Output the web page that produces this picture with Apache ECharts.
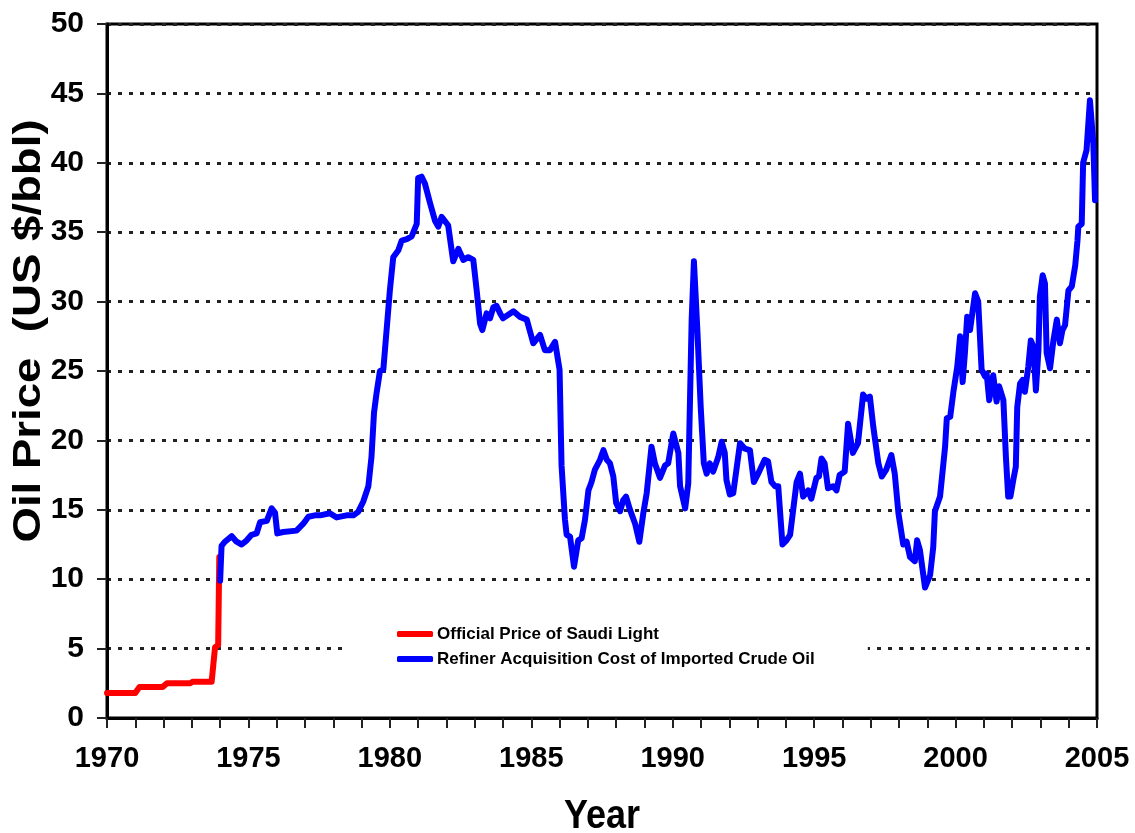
<!DOCTYPE html>
<html>
<head>
<meta charset="utf-8">
<title>Oil Price 1970-2005</title>
<script src="https://cdn.jsdelivr.net/npm/echarts@6/dist/echarts.min.js"></script>
<style>
  html, body { margin: 0; padding: 0; background: #fff; }
  #chart { width: 1135px; height: 833px; }
</style>
</head>
<body>
<div id="chart"></div>
<script>
// Official Price of Saudi Light (US $/bbl), 1970 - early 1974
const saudiYears  = [1970, 1971.0, 1971.15, 1971.97, 1972.12, 1972.93, 1973.04, 1973.7, 1973.82, 1973.93, 1973.97];
const saudiPrices = [1.8, 1.8, 2.24, 2.24, 2.5, 2.5, 2.62, 2.62, 5.1, 5.25, 11.6];

// Refiner Acquisition Cost of Imported Crude Oil (US $/bbl), 1974 - 2004
const racYears = [
  1974.00, 1974.05, 1974.17, 1974.41, 1974.58, 1974.76, 1974.94, 1975.11, 1975.29, 1975.41,
  1975.65, 1975.82, 1975.94, 1976.02, 1976.23, 1976.70, 1976.94, 1977.12, 1977.35, 1977.53,
  1977.88, 1978.12, 1978.47, 1978.71, 1978.88, 1979.06, 1979.24, 1979.35, 1979.44, 1979.53,
  1979.65, 1979.77, 1980.00, 1980.12, 1980.30, 1980.42, 1980.60, 1980.77, 1980.95, 1981.00,
  1981.12, 1981.24, 1981.42, 1981.60, 1981.71, 1981.83, 1982.06, 1982.24, 1982.42, 1982.60,
  1982.77, 1982.95, 1983.07, 1983.19, 1983.27, 1983.42, 1983.54, 1983.66, 1983.77, 1983.90,
  1984.00, 1984.37, 1984.60, 1984.84, 1985.07, 1985.31, 1985.48, 1985.66, 1985.84, 1986.00,
  1986.07, 1986.19, 1986.25, 1986.37, 1986.51, 1986.66, 1986.78, 1986.90, 1987.02, 1987.13,
  1987.25, 1987.43, 1987.55, 1987.67, 1987.78, 1987.90, 1988.00, 1988.14, 1988.25, 1988.35,
  1988.49, 1988.67, 1988.82, 1988.96, 1989.08, 1989.25, 1989.37, 1989.55, 1989.73, 1989.84,
  1990.02, 1990.20, 1990.26, 1990.44, 1990.55, 1990.67, 1990.75, 1990.87, 1990.99, 1991.10,
  1991.20, 1991.31, 1991.43, 1991.61, 1991.73, 1991.84, 1991.90, 1992.02, 1992.14, 1992.26,
  1992.38, 1992.55, 1992.73, 1992.87, 1993.02, 1993.25, 1993.37, 1993.49, 1993.62, 1993.73,
  1993.88, 1994.02, 1994.15, 1994.38, 1994.50, 1994.61, 1994.79, 1994.90, 1995.08, 1995.17,
  1995.26, 1995.37, 1995.49, 1995.67, 1995.79, 1995.90, 1996.08, 1996.20, 1996.37, 1996.55,
  1996.73, 1996.85, 1996.97, 1997.09, 1997.27, 1997.39, 1997.55, 1997.73, 1997.85, 1997.98,
  1998.15, 1998.27, 1998.39, 1998.56, 1998.64, 1998.74, 1998.92, 1999.10, 1999.21, 1999.27,
  1999.45, 1999.63, 1999.69, 1999.81, 1999.93, 2000.06, 2000.16, 2000.25, 2000.33, 2000.41,
  2000.51, 2000.69, 2000.80, 2000.92, 2001.04, 2001.10, 2001.19, 2001.33, 2001.45, 2001.54,
  2001.69, 2001.78, 2001.86, 2001.94, 2002.04, 2002.13, 2002.18, 2002.28, 2002.37, 2002.45,
  2002.57, 2002.66, 2002.75, 2002.84, 2002.93, 2002.98, 2003.08, 2003.16, 2003.22, 2003.34,
  2003.46, 2003.58, 2003.69, 2003.78, 2003.87, 2003.99, 2004.11, 2004.23, 2004.31, 2004.34,
  2004.46, 2004.51, 2004.63, 2004.75, 2004.87, 2004.93
];
const racPrices = [
  9.9, 12.4, 12.7, 13.1, 12.7, 12.5, 12.8, 13.2, 13.3, 14.1,
  14.2, 15.1, 14.8, 13.3, 13.4, 13.5, 14.0, 14.5, 14.6, 14.6,
  14.75, 14.45, 14.6, 14.6, 14.85, 15.6, 16.7, 18.8, 22.0, 23.4,
  25.0, 25.1, 30.8, 33.2, 33.7, 34.4, 34.5, 34.7, 35.6, 38.9,
  39.0, 38.5, 37.1, 35.8, 35.4, 36.1, 35.5, 32.9, 33.8, 33.0,
  33.2, 33.0, 30.8, 28.4, 27.95, 29.15, 28.8, 29.6, 29.7, 29.15,
  28.8, 29.3, 28.9, 28.7, 27.0, 27.6, 26.5, 26.5, 27.1, 25.1,
  18.2, 14.3, 13.2, 13.06, 10.9, 12.8, 12.95, 14.3, 16.4, 17.0,
  17.9, 18.6, 19.3, 18.6, 18.35, 17.4, 15.5, 14.9, 15.7, 15.95,
  15.0, 14.0, 12.7, 14.75, 16.2, 19.55, 18.35, 17.3, 18.2, 18.35,
  20.5, 19.1, 16.7, 15.1, 16.9, 28.7, 32.9, 28.0, 22.4, 18.35,
  17.6, 18.35, 17.75, 18.8, 19.9, 19.1, 17.15, 16.1, 16.2, 18.0,
  19.8, 19.4, 19.3, 17.0, 17.6, 18.6, 18.5, 17.0, 16.7, 16.7,
  12.5, 12.8, 13.2, 17.0, 17.6, 15.95, 16.4, 15.8, 17.3, 17.4,
  18.7, 18.35, 16.55, 16.7, 16.4, 17.5, 17.75, 21.2, 19.1, 19.8,
  23.3, 23.0, 23.15, 21.0, 18.35, 17.4, 17.9, 18.95, 17.6, 14.75,
  12.5, 12.7, 11.6, 11.3, 12.8, 12.1, 9.4, 10.3, 12.3, 14.9,
  15.95, 19.55, 21.6, 21.7, 23.6, 25.3, 27.5, 24.2, 26.3, 28.9,
  27.95, 30.6, 30.0, 25.1, 24.6, 24.8, 22.9, 24.7, 22.8, 23.9,
  22.9, 18.8, 15.95, 15.95, 17.15, 18.1, 22.4, 24.1, 24.35, 23.5,
  25.3, 27.2, 26.75, 23.6, 26.5, 30.35, 31.9, 31.3, 26.3, 25.2,
  27.2, 28.7, 27.0, 27.95, 28.3, 30.8, 31.1, 32.6, 34.4, 35.4,
  35.6, 40.0, 40.9, 44.5, 41.4, 37.3
];

// Axis tick labels
const xTickLabels = ['1970', '1975', '1980', '1985', '1990', '1995', '2000', '2005'];
const yTickLabels = ['0', '5', '10', '15', '20', '25', '30', '35', '40', '45', '50'];

const seriesNames = ['Official Price of Saudi Light', 'Refiner Acquisition Cost of Imported Crude Oil'];

const pairs = (xs, ys) => xs.map((x, i) => [x, ys[i]]);

const FONT = '"Liberation Sans", Arial, sans-serif';

const chart = echarts.init(document.getElementById('chart'), null, { renderer: 'canvas' });

chart.setOption({
  backgroundColor: '#ffffff',
  animation: false,
  grid: {
    left: 107, right: 38, top: 24, bottom: 115,
    show: true,
    borderColor: '#000',
    borderWidth: 3,
    backgroundColor: 'transparent'
  },
  xAxis: {
    type: 'value',
    min: 1970,
    max: 2005,
    interval: 5,
    axisLine: { show: true, lineStyle: { color: '#000', width: 3 } },
    axisTick: { show: true, length: 10, lineStyle: { color: '#222', width: 2 } },
    minorTick: { show: true, splitNumber: 5, length: 10, lineStyle: { color: '#222', width: 2 } },
    splitLine: { show: false },
    axisLabel: {
      margin: 26,
      color: '#000',
      fontFamily: FONT,
      fontWeight: 'bold',
      fontSize: 29,
      formatter: v => xTickLabels[Math.round((v - 1970) / 5)]
    }
  },
  yAxis: {
    type: 'value',
    min: 0,
    max: 50,
    interval: 5,
    axisLine: { show: true, lineStyle: { color: '#000', width: 3 } },
    axisTick: { show: true, length: 10, lineStyle: { color: '#222', width: 2 } },
    splitLine: {
      show: true,
      lineStyle: { color: '#222', width: 3, type: [4, 7] }
    },
    axisLabel: {
      margin: 23,
      color: '#000',
      fontFamily: FONT,
      fontWeight: 'bold',
      fontSize: 30,
      formatter: v => yTickLabels[Math.round(v / 5)]
    }
  },
  legend: {
    orient: 'vertical',
    left: 347,
    top: 616,
    padding: [8, 53, 8, 50],
    backgroundColor: '#ffffff',
    itemGap: 5,
    itemWidth: 36,
    itemHeight: 6,
    icon: 'roundRect',
    textStyle: {
      color: '#000',
      fontFamily: FONT,
      fontWeight: 'bold',
      fontSize: 17,
      lineHeight: 20,
      padding: [0, 0, 0, -1]
    },
    data: seriesNames
  },
  series: [
    {
      name: seriesNames[0],
      type: 'line',
      data: pairs(saudiYears, saudiPrices),
      showSymbol: false,
      symbol: 'none',
      color: '#ff0000',
      lineStyle: { color: '#ff0000', width: 6, cap: 'round', join: 'round' },
      z: 2
    },
    {
      name: seriesNames[1],
      type: 'line',
      data: pairs(racYears, racPrices),
      showSymbol: false,
      symbol: 'none',
      color: '#0000ff',
      lineStyle: { color: '#0000ff', width: 6, cap: 'round', join: 'round' },
      z: 3
    }
  ],
  graphic: [
    {
      type: 'text',
      x: 30,
      y: 331,
      rotation: Math.PI / 2,
      scaleX: 1.2,
      style: {
        text: 'Oil Price  (US $/bbl)',
        font: 'bold 38px ' + FONT,
        fill: '#000',
        align: 'center',
        verticalAlign: 'middle'
      }
    },
    {
      type: 'text',
      x: 602,
      y: 817,
      scaleY: 1.12,
      style: {
        text: 'Year',
        font: 'bold 36px ' + FONT,
        fill: '#000',
        align: 'center',
        verticalAlign: 'middle'
      }
    }
  ]
});
</script>
</body>
</html>
